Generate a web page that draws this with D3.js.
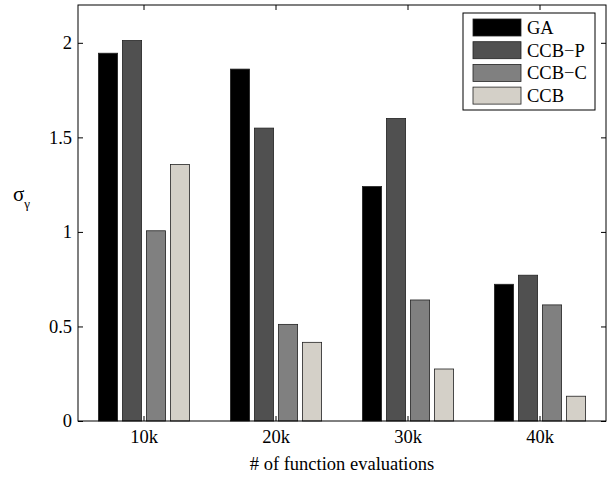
<!DOCTYPE html>
<html>
<head>
<meta charset="utf-8">
<script src="https://cdn.jsdelivr.net/npm/d3@7"></script>
<style>
  body { margin: 0; background: #fff; }
</style>
</head>
<body>
<svg width="610" height="477"></svg>
<script>
// data
var categories = ['10k', '20k', '30k', '40k'];
var series = ['GA', 'CCB\u2212P', 'CCB\u2212C', 'CCB'];
var colors = ['#000000', '#505050', '#808080', '#d4d0c8'];
var GA    = [1.945, 1.861, 1.240, 0.723];
var CCB_P = [2.012, 1.549, 1.600, 0.771];
var CCB_C = [1.006, 0.511, 0.640, 0.614];
var CCB   = [1.356, 0.416, 0.275, 0.131];
var yTicks = [0, 0.5, 1, 1.5, 2];
var values = [GA, CCB_P, CCB_C, CCB];

var font = '"Liberation Serif", "Times New Roman", serif';
var fs = '18.5px';

var svg = d3.select('svg');
var pLeft = 78, pRight = 606, pTop = 5, pBottom = 421;

var x0 = d3.scaleBand().domain(categories).range([pLeft, pRight]);
var groupW = x0.bandwidth() * Math.min(0.8, series.length / (series.length + 1.5));
var x1 = d3.scaleBand().domain(d3.range(series.length)).range([0, groupW])
    .paddingInner(0.2).paddingOuter(0.1);
var y = d3.scaleLinear().domain([0, 2.2]).range([pBottom, pTop]);

// bars
var rows = [];
categories.forEach(function(c, i){
    values.forEach(function(v, s){
        rows.push({cat: c, s: s, v: v[i]});
    });
});

svg.append('g').selectAll('rect')
    .data(rows)
    .enter()
    .append('rect')
    .attr('x', function(d){ return x0(d.cat) + (x0.bandwidth() - groupW) / 2 + x1(d.s); })
    .attr('y', function(d){ return y(d.v); })
    .attr('width', x1.bandwidth())
    .attr('height', function(d){ return y(0) - y(d.v); })
    .attr('fill', function(d){ return colors[d.s]; })
    .attr('stroke', '#222')
    .attr('stroke-width', 0.8);

// axes, ticks pointing inward like matlab
var xb = svg.append('g').attr('transform', 'translate(0,' + pBottom + ')')
    .call(d3.axisBottom(x0).tickSizeInner(-5).tickSizeOuter(0).tickPadding(9));
var xt = svg.append('g').attr('transform', 'translate(0,' + pTop + ')')
    .call(d3.axisTop(x0).tickSizeInner(-5).tickSizeOuter(0).tickFormat(''));
var yl = svg.append('g').attr('transform', 'translate(' + pLeft + ',0)')
    .call(d3.axisLeft(y).tickValues(yTicks).tickSizeInner(-5).tickSizeOuter(0).tickPadding(6)
        .tickFormat(function(d){ return d; }));
var yr = svg.append('g').attr('transform', 'translate(' + pRight + ',0)')
    .call(d3.axisRight(y).tickValues(yTicks).tickSizeInner(-5).tickSizeOuter(0).tickFormat(''));

[xb, xt, yl, yr].forEach(function(g){
    g.select('.domain').remove();
    g.selectAll('line').attr('stroke', '#000');
    g.selectAll('text').attr('fill', '#000');
});

// box
svg.append('rect')
    .attr('x', pLeft).attr('y', pTop)
    .attr('width', pRight - pLeft).attr('height', pBottom - pTop)
    .attr('fill', 'none').attr('stroke', '#000').attr('stroke-width', 1);

// labels
svg.append('text')
    .attr('x', (pLeft + pRight) / 2).attr('y', 470)
    .attr('text-anchor', 'middle')
    .text('# of function evaluations');

var ylab = svg.append('text').attr('x', 13).attr('y', 201).attr('class', 'ylab');
ylab.append('tspan').text('\u03c3');
ylab.append('tspan').attr('dy', 7).style('font-size', '13px').text('\u03b3');

// legend
var lg = svg.append('g').attr('transform', 'translate(463,13)');
lg.append('rect').attr('width', 132).attr('height', 97)
    .attr('fill', '#fff').attr('stroke', '#000');
series.forEach(function(s, i){
    var row = lg.append('g').attr('transform', 'translate(10,' + (6 + i * 22.7) + ')');
    row.append('rect').attr('width', 48).attr('height', 17)
        .attr('fill', colors[i]).attr('stroke', '#222').attr('stroke-width', 0.8);
    row.append('text').attr('x', 54).attr('y', 15).text(s);
});

// serif font on every text
svg.selectAll('text')
    .style('font-family', font)
    .style('font-size', function(){ return d3.select(this).classed('ylab') ? '21px' : fs; });
</script>
</body>
</html>
